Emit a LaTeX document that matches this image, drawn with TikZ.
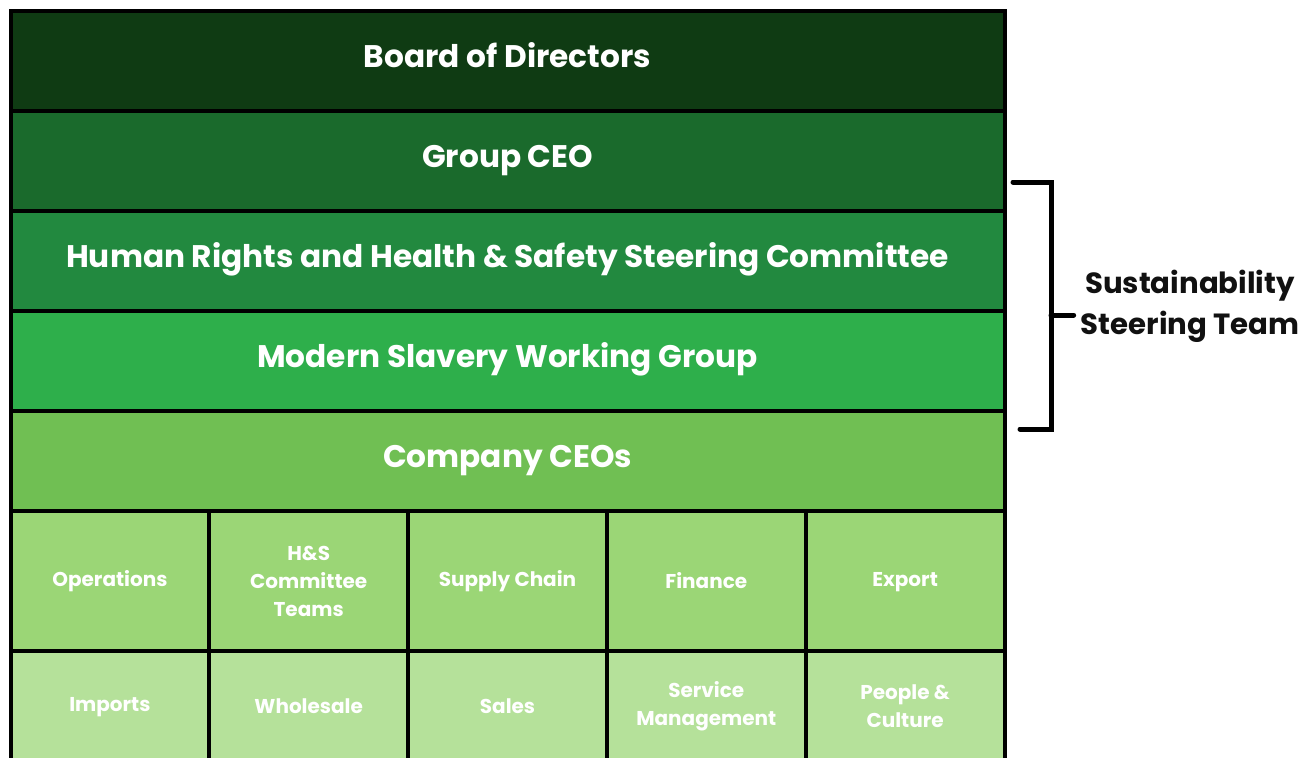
\documentclass[tikz,border=0pt]{standalone}
\usepackage{fontspec}
\setmainfont{Poppins}
\usetikzlibrary{
    positioning            % Relative positioning
}

% Tier colours, dark to light
\definecolor{boardgreen}{HTML}{0F3B13}
\definecolor{ceogreen}{HTML}{1A6A2C}
\definecolor{steergreen}{HTML}{22893F}
\definecolor{workgreen}{HTML}{2EAF4B}
\definecolor{companygreen}{HTML}{70BF53}
\definecolor{teamgreen}{HTML}{9BD676}
\definecolor{deptgreen}{HTML}{B5E19A}
\definecolor{inkblack}{HTML}{111111}

\tikzset{
    tier/.style={draw=black, line width=2pt, outer sep=0pt, inner sep=0pt,
        minimum width=497pt, minimum height=50pt, text=white,
        text height=0.82em, text depth=0.18em,
        font=\bfseries\fontsize{15.6}{18}\selectfont},
    unitbox/.style={draw=black, line width=2pt, outer sep=0pt, inner sep=0pt,
        minimum width=99.4pt, align=center, text=white,
        font=\bfseries\fontsize{10}{14}\selectfont},
    team/.style={unitbox, fill=teamgreen, minimum height=70pt},
    dept/.style={unitbox, fill=deptgreen, minimum height=55pt},
    bracket/.style={draw=black, line width=2.5pt, line cap=round}
}

\begin{document}
\begin{tikzpicture}[x=0.5pt, y=-0.5pt]
    \clip (0,0) rectangle (1316,757);

    % Governance tiers
    \node[tier, fill=boardgreen] (board) at (507.5,61) {Board of Directors};
    \node[tier, fill=ceogreen, below=0pt of board] (groupceo) {Group CEO};
    \node[tier, fill=steergreen, below=0pt of groupceo] (hrsteer)
        {Human Rights and Health \& Safety Steering Committee};
    \node[tier, fill=workgreen, below=0pt of hrsteer] (mswg) {Modern Slavery Working Group};
    \node[tier, fill=companygreen, below=0pt of mswg] (companyceos) {Company CEOs};

    % Teams under the company CEOs
    \node[team, anchor=north west] (ops) at (companyceos.south west) {Operations};
    \node[team, right=0pt of ops] (hsteams) {H\&S\\Committee\\Teams};
    \node[team, right=0pt of hsteams] (supply) {Supply Chain};
    \node[team, right=0pt of supply] (finance) {Finance};
    \node[team, right=0pt of finance] (export) {Export\strut};

    \node[dept, below=0pt of ops] (imports) {Imports\strut};
    \node[dept, below=0pt of hsteams] (wholesale) {Wholesale};
    \node[dept, below=0pt of supply] (sales) {Sales};
    \node[dept, below=0pt of finance] (service) {Service\\Management};
    \node[dept, below=0pt of export] (people) {People \&\\Culture};

    % Bracket round the steering team
    \coordinate (brtop) at (1013,182);
    \coordinate (brbot) at (1020,429);
    \node[text=inkblack, align=center, font=\bfseries\fontsize{14.6}{20.5}\selectfont]
        (sst) at (1190,306) {Sustainability\\Steering Team};
    \draw[bracket] (brtop) -- (1051,182) -- (1051,429) -- (brbot);
    \draw[bracket] (1051,315) -- (sst.west |- 0,315);
\end{tikzpicture}
\end{document}
